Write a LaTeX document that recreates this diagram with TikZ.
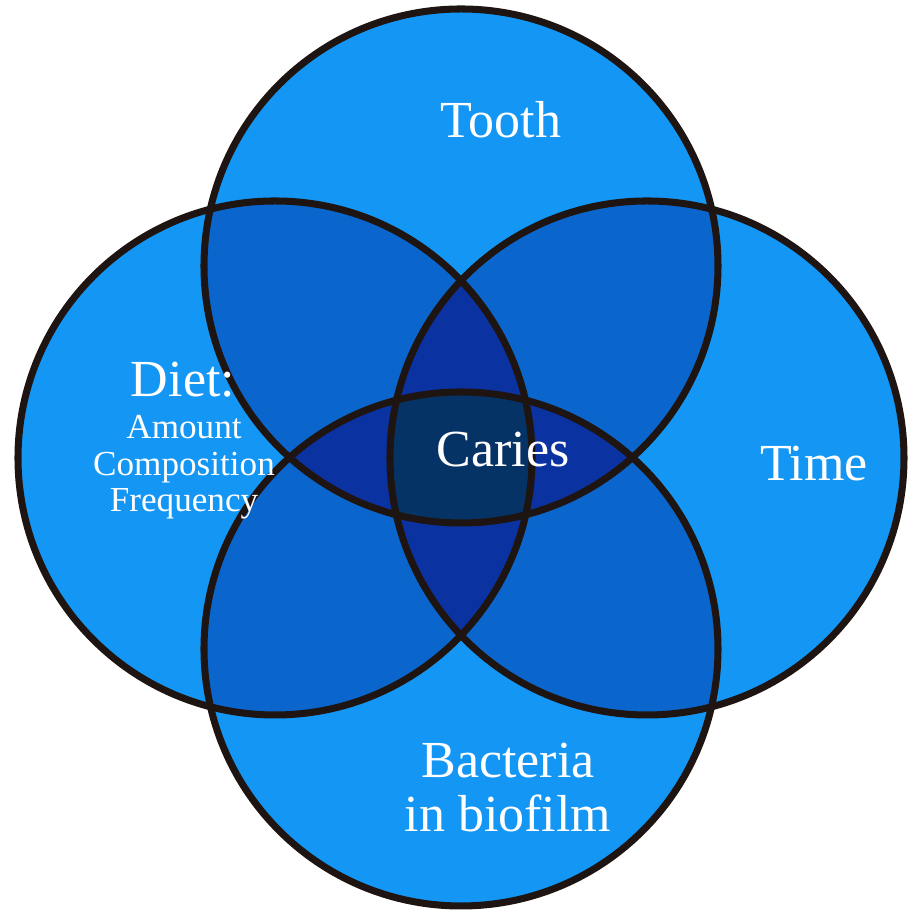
\documentclass[tikz,border=0pt]{standalone}
\usepackage{fontspec}
\setmainfont{Liberation Serif}
\usepackage{xcolor}
\definecolor{oneblue}{HTML}{1496F5}
\definecolor{twoblue}{HTML}{0A66CC}
\definecolor{threeblue}{HTML}{0A32A0}
\definecolor{fourblue}{HTML}{063366}
\definecolor{rim}{HTML}{1E1512}

\begin{document}
\begin{tikzpicture}[
    ring/.style={draw=rim, line width=2pt},
    bigtext/.style={text=white, font=\fontsize{14.8}{15.6}\selectfont, align=center, anchor=base},
    smalltext/.style={text=white, font=\fontsize{10}{10.5}\selectfont, align=center, anchor=base}
]
\useasboundingbox (0,0) rectangle (9.14,9.10);
\coordinate (tooth) at (4.61,6.44);
\coordinate (diet) at (2.75,4.52);
\coordinate (time) at (6.47,4.52);
\coordinate (bact) at (4.61,2.61);

\foreach \c in {tooth,diet,time,bact}
    \fill[oneblue] (\c) circle (2.57);
\foreach \a/\b in {tooth/diet,tooth/time,bact/diet,bact/time,tooth/bact,diet/time} {
    \begin{scope}
        \clip (\a) circle (2.57);
        \fill[twoblue] (\b) circle (2.57);
    \end{scope}
}
\foreach \a/\b/\d in {tooth/diet/time,bact/diet/time,tooth/bact/diet,tooth/bact/time} {
    \begin{scope}
        \clip (\a) circle (2.57);
        \clip (\b) circle (2.57);
        \fill[threeblue] (\d) circle (2.57);
    \end{scope}
}
\begin{scope}
    \clip (tooth) circle (2.57);
    \clip (bact) circle (2.57);
    \clip (diet) circle (2.57);
    \fill[fourblue] (time) circle (2.57);
\end{scope}
\foreach \c in {tooth,diet,time,bact}
    \draw[ring] (\c) circle (2.57);

\node[bigtext] (toothtext) at (5.01,7.72) {Tooth};
\node[bigtext] (timetext) at (8.14,4.29) {Time};
\node[bigtext] (caries) at (5.03,4.43) {Caries};
\node[bigtext] (diettext) at (1.83,5.13) {Diet:};
\node[smalltext] (dietsub) at (1.84,3.98) {Amount\\Composition\\Frequency};
\node[bigtext] (bacttext) at (5.08,0.78) {Bacteria\\in biofilm};
\end{tikzpicture}
\end{document}
